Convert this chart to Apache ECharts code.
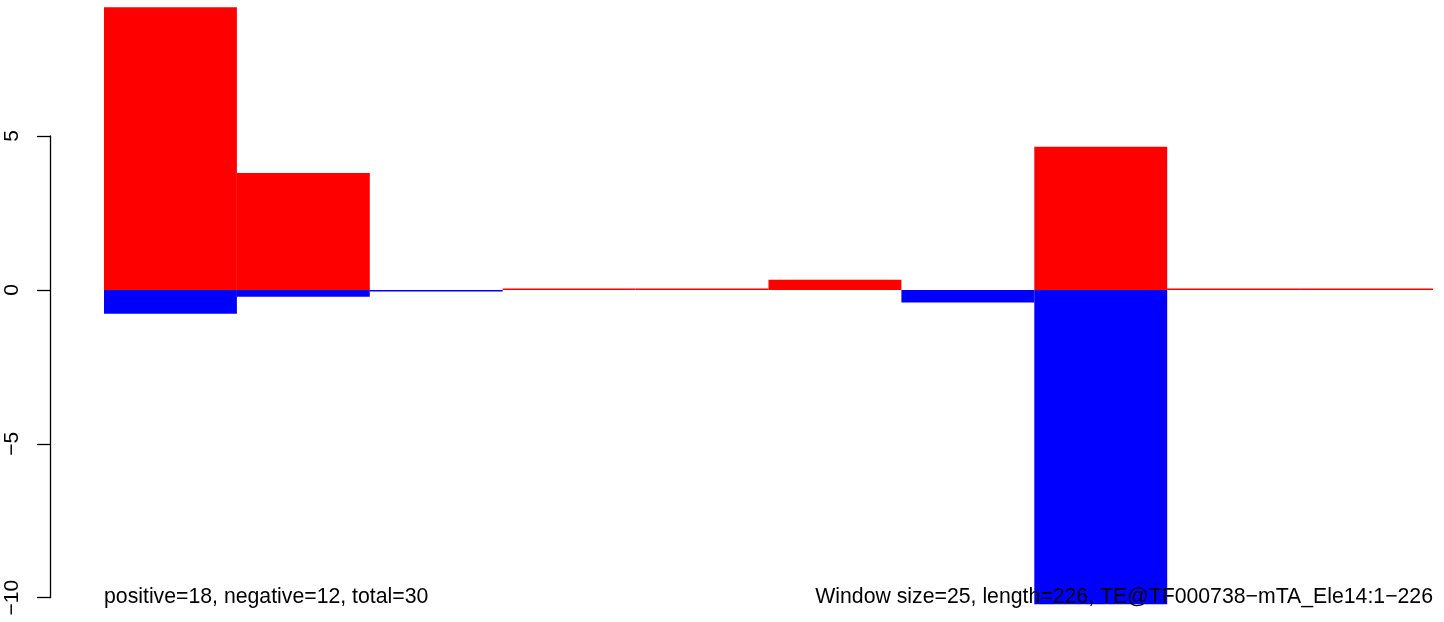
<!DOCTYPE html>
<html>
<head>
<meta charset="utf-8">
<script src="https://cdn.jsdelivr.net/npm/echarts@6/dist/echarts.min.js"></script>
<style>
html,body{margin:0;padding:0;background:#fff;}
#chart{width:1444px;height:622px;}
</style>
</head>
<body>
<div id="chart"></div>
<script>
// Windows of size 25 along length 226
var categories = ['1-25','26-50','51-75','76-100','101-125','126-150','151-175','176-200','201-225','226-226'];
var positiveValues = [9.19, 3.80, 0, 0.05, 0.05, 0.33, 0, 4.65, 0.05, 0.05];
var negativeValues = [-0.77, -0.22, -0.05, 0, 0, 0, -0.41, -10.21, 0, 0];
var yTickMin = -10, yTickMax = 5, yTickStep = 5;
var leftNote = 'positive=18, negative=12, total=30';
var rightNote = 'Window size=25, length=226, TE@TF000738\u2212mTA_Ele14:1\u2212226';

var FONT = 'Liberation Sans, Arial, Helvetica, sans-serif';
var chart = echarts.init(document.getElementById('chart'));
chart.setOption({
  animation: false,
  backgroundColor: '#fff',
  grid: [
    {left: 104, right: 11, top: 0.67, bottom: 8.81},
    {left: 50, width: 1, top: 136, bottom: 24.3}
  ],
  xAxis: [
    {type: 'category', gridIndex: 0, data: categories, boundaryGap: true, show: false},
    {type: 'value', gridIndex: 1, show: false}
  ],
  yAxis: [
    {type: 'value', gridIndex: 0, min: -10.5, max: 9.4, show: false},
    {
      type: 'value', gridIndex: 1, min: yTickMin, max: yTickMax, interval: yTickStep,
      position: 'left',
      axisLine: {show: true, lineStyle: {color: '#000', width: 1.3}},
      axisTick: {show: true, inside: false, length: 13, lineStyle: {color: '#000', width: 1.3}},
      splitLine: {show: false},
      axisLabel: {
        rotate: 90, margin: 27, color: '#000', fontSize: 21, fontFamily: FONT,
        formatter: function (v) { return String(v).replace('-', '\u2212'); }
      }
    }
  ],
  series: [
    {
      type: 'bar', xAxisIndex: 0, yAxisIndex: 0, data: positiveValues,
      barWidth: '100%', barGap: '-100%', itemStyle: {color: '#ff0000'}, silent: true
    },
    {
      type: 'bar', xAxisIndex: 0, yAxisIndex: 0, data: negativeValues,
      barWidth: '100%', barGap: '-100%', itemStyle: {color: '#0000ff'}, silent: true
    }
  ],
  graphic: [
    {type: 'text', z: 100, left: 104, top: 587, style: {text: leftNote, font: '21.25px ' + FONT, fill: '#000'}},
    {type: 'text', z: 100, right: 11, top: 587, style: {text: rightNote, font: '21.25px ' + FONT, fill: '#000'}}
  ]
});
</script>
</body>
</html>
